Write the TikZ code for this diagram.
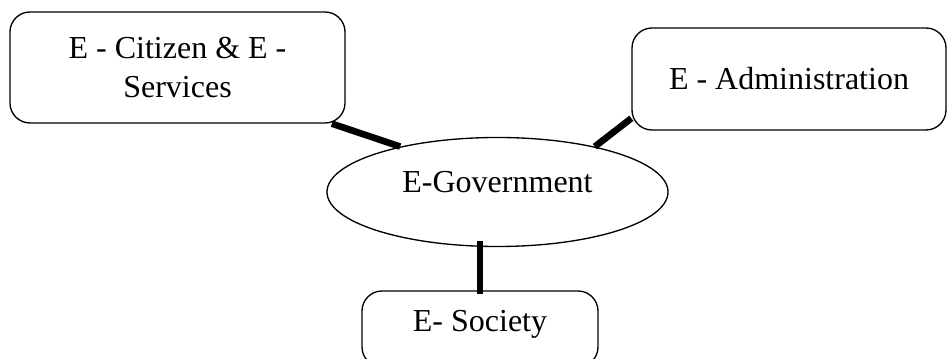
\documentclass[tikz,border=0pt]{standalone}
\usepackage{fontspec}
\setmainfont{Liberation Serif}
\usetikzlibrary{calc,shapes}

\begin{document}
\begin{tikzpicture}[x=0.75pt,y=0.75pt,
  box/.style={draw, line width=1pt, rounded corners=15pt, inner sep=0pt, font=\fontsize{24}{29}\selectfont, align=center},
  hub/.style={draw, ellipse, line width=1pt, inner sep=0pt, minimum width=255.75pt, minimum height=81.75pt, font=\fontsize{24}{29}\selectfont},
  link/.style={line width=5pt}]
  \useasboundingbox (0,0) rectangle (948,359);

  \node [box, minimum width=251.25pt, minimum height=83.25pt] (citizen) at (177.5,291.5) {E - Citizen \& E -\\Services};
  \node [box, minimum width=235.5pt, minimum height=76.5pt] (admin) at (789,280) {E - Administration};
  \node [hub, text height=16pt, text depth=14.5pt] (gov) at (497.5,167) {E-Government};
  \node [box, minimum width=177pt, minimum height=57pt, text height=16pt, text depth=12pt] (society) at (480,30) {E- Society};

  \draw [link] (citizen.-20) -- (gov.155);
  \draw [link] (admin.194) -- (gov.25);
  \draw [link] ($(gov.south -| society.north)+(0,6)$) -- ($(society.north)+(0,-4)$);
\end{tikzpicture}
\end{document}
